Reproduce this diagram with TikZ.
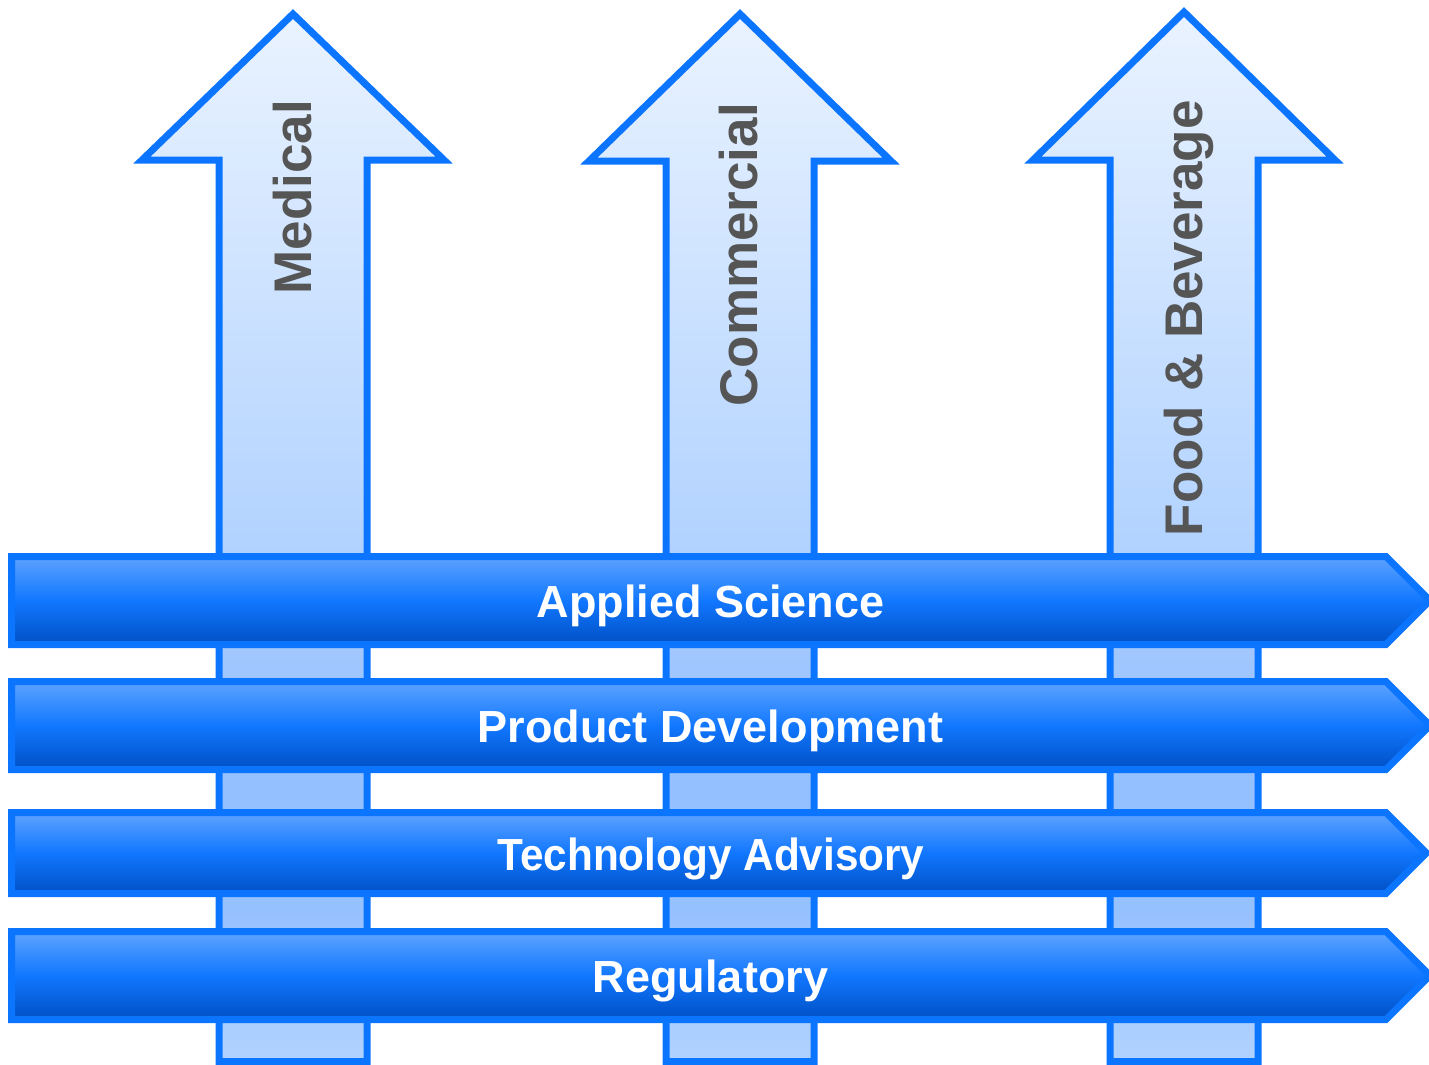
\documentclass[tikz,border=0pt]{standalone}
\usepackage{fontspec}
\setmainfont{Liberation Sans}
\definecolor{edgeblue}{HTML}{0B75FF}
\definecolor{labelgray}{HTML}{555555}
\definecolor{sa}{HTML}{EAF3FF}
\definecolor{sb}{HTML}{B2D3FF}
\definecolor{sc}{HTML}{A0C6FF}
\definecolor{sd}{HTML}{94C0FF}
\definecolor{se}{HTML}{96C1FF}
\definecolor{sf}{HTML}{B0D2FF}
\definecolor{bandtop}{HTML}{5EA3FF}
\definecolor{bandmid}{HTML}{1177FF}
\definecolor{bandbot}{HTML}{0050C4}
\pgfdeclareverticalshading{shaftshade}{100bp}{color(0bp)=(sf); color(25bp)=(sf); color(32.2bp)=(se); color(37.9bp)=(sd); color(43.9bp)=(sc); color(49.8bp)=(sb); color(75bp)=(sa); color(100bp)=(sa)}
\tikzset{
  pillar/.style={draw=edgeblue, line width=7pt, shading=shaftshade, miter limit=10},
  band/.style={draw=edgeblue, line width=7pt, top color=bandtop, bottom color=bandbot, middle color=bandmid},
  bandtext/.style={text=white, font=\bfseries\fontsize{45}{50}\selectfont, inner sep=0pt, anchor=base},
  pillartext/.style={text=labelgray, font=\bfseries\fontsize{53}{58}\selectfont, inner sep=0pt, rotate=90, anchor=base east}
}
\begin{document}
\begin{tikzpicture}[x=1pt, y=-1pt]
\useasboundingbox (0,0) rectangle (1429,1065);
% pillars
\foreach \c/\t/\h in {293/14/160, 740/14/161, 1184/12/160}{
  \path[pillar] (\c,\t) -- (\c+151,\h) -- (\c+74,\h) -- (\c+74,1061.5) -- (\c-74,1061.5) -- (\c-74,\h) -- (\c-151,\h) -- cycle;
}
\node[pillartext] (medical) at (311.5,100) {Medical};
\node[pillartext] (commercial) at (757.5,103) {Commercial};
\node[pillartext] (food) at (1202.5,100) {Food \& Beverage};
% bands
\foreach \a/\b in {556.5/644.5, 681.5/769.5, 812.5/893.5, 931.5/1019.5}{
  \path[band] (11.5,\a) -- (1386,\a) -- (1386+0.5*\b-0.5*\a,0.5*\a+0.5*\b) -- (1386,\b) -- (11.5,\b) -- cycle;
}
\node[bandtext] (applied) at (710.5,617.5) {Applied Science};
\node[bandtext] (product) at (710.5,742.5) {Product Development};
\node[bandtext, xscale=0.94] (tech) at (711,870) {Technology Advisory};
\node[bandtext] (reg) at (710.5,992.5) {Regulatory};
\end{tikzpicture}
\end{document}
